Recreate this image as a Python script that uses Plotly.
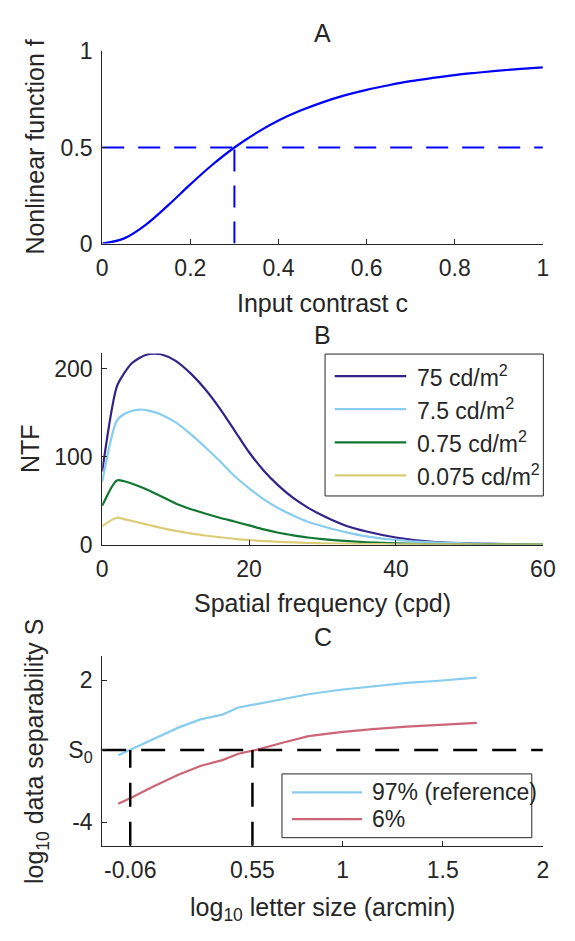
import plotly.graph_objects as go

# the page keeps the browser's 8px body margin, so the figure is sized to fit
# a 575x941 window exactly and positions below are given in window pixels
W, H = 559, 925
OX, OY = 8, 8

# ---- panel A: nonlinear transducer ----
contrast = [0, 0.05, 0.1, 0.15, 0.2, 0.25, 0.3, 0.35, 0.4, 0.45, 0.5,
            0.55, 0.6, 0.65, 0.7, 0.75, 0.8, 0.85, 0.9, 0.95, 1.0]
nonlin_f = [0, 0.027, 0.1, 0.2, 0.308, 0.41, 0.5, 0.576, 0.64, 0.692, 0.735,
            0.771, 0.8, 0.824, 0.845, 0.862, 0.877, 0.889, 0.9, 0.909, 0.917]
c_half = 0.3
f_half = 0.5

# ---- panel B: NTF per luminance ----
sf_cpd = [0, 2, 3, 4, 5, 6, 7, 8, 10, 12, 14, 16, 18, 20, 22, 24, 26, 28, 30,
          33, 36, 40, 45, 50, 55, 60]
ntf_75 = [83, 180, 195, 206, 212, 216, 217.3, 216.5, 209, 195, 177, 155, 130,
          105, 84, 67, 53, 42, 33, 22, 14.8, 8, 3, 1.3, 0.6, 0.3]
ntf_7p5 = [71, 141, 148.5, 152, 153.6, 153, 151, 148, 139, 126, 111, 95, 78,
           64, 51.5, 41.4, 33, 25.9, 20.9, 14.4, 9.3, 5.2, 2.5, 1.2, 0.5, 0.2]
ntf_0p75 = [44, 73, 72, 69.5, 66.3, 62.8, 59, 55, 46.8, 40.5, 35.3, 30.5, 26.2,
            21.8, 17.2, 13.4, 10.5, 8, 6.2, 4.1, 2.6, 1.4, 0.6, 0.3, 0.1, 0.05]
ntf_0p075 = [21, 30.5, 29, 27, 25, 23, 21, 19, 15.5, 12.8, 10.3, 8.3, 6.5, 5.2,
             4, 3.1, 2.4, 1.8, 1.4, 1.0, 0.6, 0.35, 0.2, 0.1, 0.05, 0.02]
lum_labels = ['75 cd/m<sup>2</sup>', '7.5 cd/m<sup>2</sup>',
              '0.75 cd/m<sup>2</sup>', '0.075 cd/m<sup>2</sup>']
lum_colors = ['#332288', '#88CCEE', '#117733', '#DDCC77']

# ---- panel C: data separability vs letter size ----
log_size = [-0.12, -0.06, 0.05, 0.18, 0.29, 0.40, 0.48, 0.57, 0.70, 0.83,
            0.99, 1.15, 1.32, 1.48, 1.67]
sep_97 = [-1.18, -0.95, -0.50, -0.01, 0.34, 0.54, 0.84, 0.99, 1.20, 1.40,
          1.59, 1.74, 1.88, 1.97, 2.10]
sep_6 = [-3.22, -2.99, -2.52, -2.0, -1.63, -1.38, -1.11, -0.95, -0.65, -0.37,
         -0.20, -0.07, 0.03, 0.09, 0.19]
sep_labels = ['97% (reference)', '6%']
sep_colors = ['#88CCEE', '#CC6677']
s0 = -0.95
size_thresh = [-0.06, 0.55]

ink = '#262626'
font = 'Liberation Sans, Arial, Helvetica, sans-serif'


def px(x):
    return (x - OX) / W


def py(y):
    return 1 - (y - OY) / H


fig = go.Figure()

# panel A
fig.add_trace(go.Scatter(x=contrast, y=nonlin_f, mode='lines', line_shape='spline',
                         line=dict(color='#0000FF', width=2.2), xaxis='x', yaxis='y'))
fig.add_trace(go.Scatter(x=[0, 1], y=[f_half, f_half], mode='lines',
                         line=dict(color='#0000FF', width=2, dash='22px,14px'),
                         xaxis='x', yaxis='y'))
fig.add_trace(go.Scatter(x=[c_half, c_half], y=[0, f_half], mode='lines',
                         line=dict(color='#0000FF', width=2, dash='22px,14px'),
                         xaxis='x', yaxis='y'))

# panel B
for ys, col in zip([ntf_75, ntf_7p5, ntf_0p75, ntf_0p075], lum_colors):
    fig.add_trace(go.Scatter(x=sf_cpd, y=ys, mode='lines', line_shape='spline',
                             line=dict(color=col, width=2.2, smoothing=0.8),
                             xaxis='x2', yaxis='y2'))

# panel C
for ys, col in zip([sep_97, sep_6], sep_colors):
    fig.add_trace(go.Scatter(x=log_size, y=ys, mode='lines',
                             line=dict(color=col, width=2.2), xaxis='x3', yaxis='y3'))
fig.add_trace(go.Scatter(x=[-0.2, 2], y=[s0, s0], mode='lines',
                         line=dict(color='black', width=2.5, dash='24px,15px'),
                         xaxis='x3', yaxis='y3'))
for xt in size_thresh:
    fig.add_trace(go.Scatter(x=[xt, xt], y=[-5, s0], mode='lines',
                             line=dict(color='black', width=2.5, dash='24px,15px'),
                             xaxis='x3', yaxis='y3'))

ax = dict(showgrid=False, zeroline=False, showline=True, linecolor=ink, linewidth=1,
          ticks='inside', ticklen=5, tickcolor=ink, tickwidth=1,
          tickfont=dict(size=23, color=ink, family=font), ticklabelstandoff=4)
xdom = [px(99.3), px(555.5)]

fig.update_layout(
    width=W, height=H, margin=dict(l=0, r=0, t=0, b=0),
    paper_bgcolor='white', plot_bgcolor='white', showlegend=False,
    font=dict(family=font, color=ink),
    xaxis=dict(ax, domain=xdom, anchor='y', range=[0, 1],
               tickvals=[0, 0.2, 0.4, 0.6, 0.8, 1],
               ticktext=['0', '0.2', '0.4', '0.6', '0.8', '1']),
    yaxis=dict(ax, domain=[py(237), py(39.3)], anchor='x', range=[0, 1],
               tickvals=[0, 0.5, 1], ticktext=['0', '0.5', '1']),
    xaxis2=dict(ax, domain=xdom, anchor='y2', range=[0, 60],
                tickvals=[0, 20, 40, 60]),
    yaxis2=dict(ax, domain=[py(546.7), py(350)], anchor='x2', range=[0, 217.5],
                tickvals=[0, 100, 200]),
    xaxis3=dict(ax, domain=xdom, anchor='y3', range=[-0.2, 2],
                tickvals=[-0.06, 0.55, 1, 1.5, 2],
                ticktext=['-0.06', '0.55', '1', '1.5', '2']),
    yaxis3=dict(ax, domain=[py(856.7), py(661.7)], anchor='x3', range=[-5, 3],
                tickvals=[-4, s0, 2], ticktext=['-4', 'S<sub>0</sub>', '2']),
)

ann = []
cx = (99.3 + 555.5) / 2
for txt, y in [('A', 20), ('B', 330.7), ('C', 641.7)]:
    ann.append(dict(text=txt, x=px(cx), y=py(y), font=dict(size=25)))
for txt, y in [('Input contrast c', 298), ('Spatial frequency (cpd)', 607),
               ('log<sub>10</sub> letter size (arcmin)', 922)]:
    ann.append(dict(text=txt, x=px(cx), y=py(y), font=dict(size=25)))
for txt, x, y in [('Nonlinear function f', 30, 138), ('NTF', 24, 448),
                  ('log<sub>10</sub> data separability S', 31, 760)]:
    ann.append(dict(text=txt, x=px(x), y=py(y), textangle=-90, font=dict(size=25)))

shapes = []
# legend B
shapes.append(dict(type='rect', x0=px(330), x1=px(556), y0=py(350.7), y1=py(496.7),
                   line=dict(color=ink, width=1), fillcolor='white', layer='above'))
for i, (lab, col) in enumerate(zip(lum_labels, lum_colors)):
    yr = 373.3 + 34.1 * i
    shapes.append(dict(type='line', x0=px(340), x1=px(414), y0=py(yr), y1=py(yr),
                       line=dict(color=col, width=2.2), layer='above'))
    ann.append(dict(text=lab, x=px(423), y=py(yr), xanchor='left', font=dict(size=23)))
# legend C
shapes.append(dict(type='rect', x0=px(285.4), x1=px(544), y0=py(782.7), y1=py(848.3),
                   line=dict(color=ink, width=1), fillcolor='white', layer='above'))
for i, (lab, col) in enumerate(zip(sep_labels, sep_colors)):
    yr = 801.7 + 27.6 * i
    shapes.append(dict(type='line', x0=px(295.6), x1=px(368.3), y0=py(yr), y1=py(yr),
                       line=dict(color=col, width=2.2), layer='above'))
    ann.append(dict(text=lab, x=px(376.4), y=py(yr), xanchor='left', font=dict(size=23)))

for s in shapes:
    s.update(xref='paper', yref='paper')

for a in ann:
    a.update(xref='paper', yref='paper', showarrow=False)
    a.setdefault('xanchor', 'center')
    a['yanchor'] = 'middle'
    a['font'].update(family=font, color=ink)

fig.update_layout(annotations=ann, shapes=shapes)
fig.update_traces(showlegend=False, hoverinfo='skip')

fig.write_html("out.html", config={'displayModeBar': False})
